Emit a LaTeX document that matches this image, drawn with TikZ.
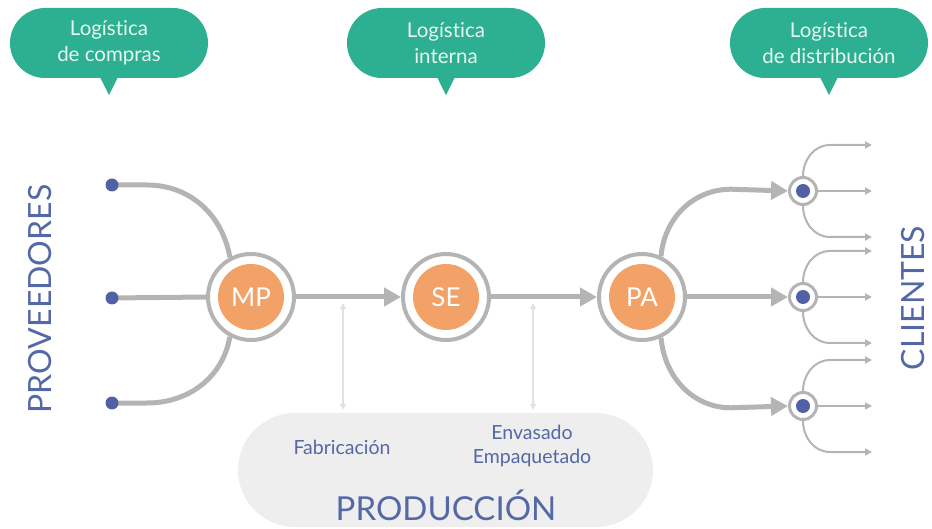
\documentclass[tikz,border=0pt]{standalone}
\usepackage{fontspec}
\setmainfont{Lato}[Ligatures={NoCommon,NoRare,NoDiscretionary},Contextuals=NoAlternate]
\usetikzlibrary{arrows.meta}

\definecolor{bubblegreen}{RGB}{45,175,145}
\definecolor{bubbletext}{RGB}{232,246,240}
\definecolor{coreorange}{RGB}{243,162,103}
\definecolor{ringgray}{RGB}{180,180,180}
\definecolor{dotblue}{RGB}{80,98,165}
\definecolor{textblue}{RGB}{84,104,166}
\definecolor{prodgray}{RGB}{238,238,238}
\definecolor{softgray}{RGB}{226,226,226}

\tikzset{
  bubble/.style={fill=bubblegreen, rounded corners=35pt, minimum width=198pt,
    minimum height=70pt, inner sep=0pt, text=bubbletext, align=center,
    font=\fontsize{20.5}{26}\selectfont},
  ring/.style={circle, draw=ringgray, line width=4pt, fill=white, minimum size=86pt, inner sep=0pt},
  core/.style={circle, fill=coreorange, minimum size=66pt, inner sep=0pt, text=white,
    font=\fontsize{26}{26}\selectfont},
  smallring/.style={circle, draw=ringgray, line width=3pt, fill=white, minimum size=27pt, inner sep=0pt},
  bluedot/.style={circle, fill=dotblue, minimum size=#1, inner sep=0pt},
  flow/.style={draw=ringgray, line width=5pt},
  bigarrow/.style={flow, -{Triangle[length=17pt,width=18pt]}},
  thinarrow/.style={draw=ringgray, line width=2pt, -{Triangle[length=7pt,width=7pt]}},
  softarrow/.style={draw=softgray, line width=2pt, {Triangle[length=6pt,width=6pt]}-{Triangle[length=6pt,width=6pt]}},
  bluetext/.style={text=textblue, align=center, font=\fontsize{19.5}{24}\selectfont},
  sidetext/.style={text=textblue, rotate=90, inner sep=0pt, font=\fontsize{32}{32}\selectfont}
}

\begin{document}
\begin{tikzpicture}[x=1pt,y=1pt]
\useasboundingbox (0,0) rectangle (932,-529);

% bubbles
\node[bubble] (bubCompras) at (109,-43) {Logística\\de compras};
\node[bubble] (bubInterna) at (446,-43) {Logística\\interna};
\node[bubble] (bubDistrib) at (829,-43) {Logística\\de distribución};
\foreach \b in {bubCompras,bubInterna,bubDistrib}
  \fill[bubblegreen] ([xshift=-9pt,yshift=1pt]\b.south) -- ([yshift=-17pt]\b.south)
    -- ([xshift=9pt,yshift=1pt]\b.south) -- cycle;

% produccion
\node[fill=prodgray, rounded corners=57pt, minimum width=415pt, minimum height=114pt] (prod) at (445.5,-470) {};
\node[bluetext] (fab) at (342,-447) {Fabricación};
\node[bluetext] (env) at (532,-446) {Envasado\\Empaquetado};
\node[text=textblue, font=\fontsize{33}{33}\selectfont] (prodTitle) at (446,-505) {PRODUCCIÓN};

\coordinate (fabTop) at (343,-303);
\coordinate (envTop) at (533,-303);
\draw[softarrow] (fabTop) -- ([yshift=3pt]fabTop |- prod.north);
\draw[softarrow] (envTop) -- ([yshift=3pt]envTop |- prod.north);

% proveedores
\coordinate (prov1) at (112,-185);
\coordinate (prov2) at (112,-298);
\coordinate (prov3) at (112,-403);

\node[ring] (mp) at (251,-297) {};
\node[ring] (se) at (446,-297) {};
\node[ring] (pa) at (642,-297) {};

\draw[flow] (prov1) -- ++(35,0) to[out=0,in=100] (mp.118);
\draw[flow] (prov2) -- (mp.west);
\draw[flow] (prov3) -- ++(35,0) to[out=0,in=-100] (mp.-118);
\foreach \p in {prov1,prov2,prov3}
  \node[bluedot=13pt] (\p dot) at (\p) {};

\draw[bigarrow] (mp.east) -- (se.west);
\draw[bigarrow] (se.east) -- (pa.west);

% clientes
\node[smallring] (cli1) at (803,-191) {};
\node[smallring] (cli2) at (803,-297) {};
\node[smallring] (cli3) at (803,-406) {};

\draw[bigarrow] (pa.65) to[out=85,in=180] ++(70,67) -- (cli1.west);
\draw[bigarrow] (pa.east) -- (cli2.west);
\draw[bigarrow] (pa.-65) to[out=-85,in=180] ++(70,-70) -- (cli3.west);

\foreach \c in {cli1,cli2,cli3}{
  \draw[thinarrow] (\c.north) to[out=90,in=180] ++(27,31) -- ++(42,0);
  \draw[thinarrow] (\c.east) -- ++(54,0);
  \draw[thinarrow] (\c.south) to[out=-90,in=180] ++(27,-31) -- ++(42,0);
  \node[bluedot=14pt] (\c dot) at (\c) {};
}

\node[core] (mpCore) at (mp) {MP};
\node[core] (seCore) at (se) {SE};
\node[core] (paCore) at (pa) {PA};

\node[sidetext] (provLabel) at (40,-299) {PROVEEDORES};
\node[sidetext] (cliLabel) at (913,-298) {CLIENTES};

\end{tikzpicture}
\end{document}
